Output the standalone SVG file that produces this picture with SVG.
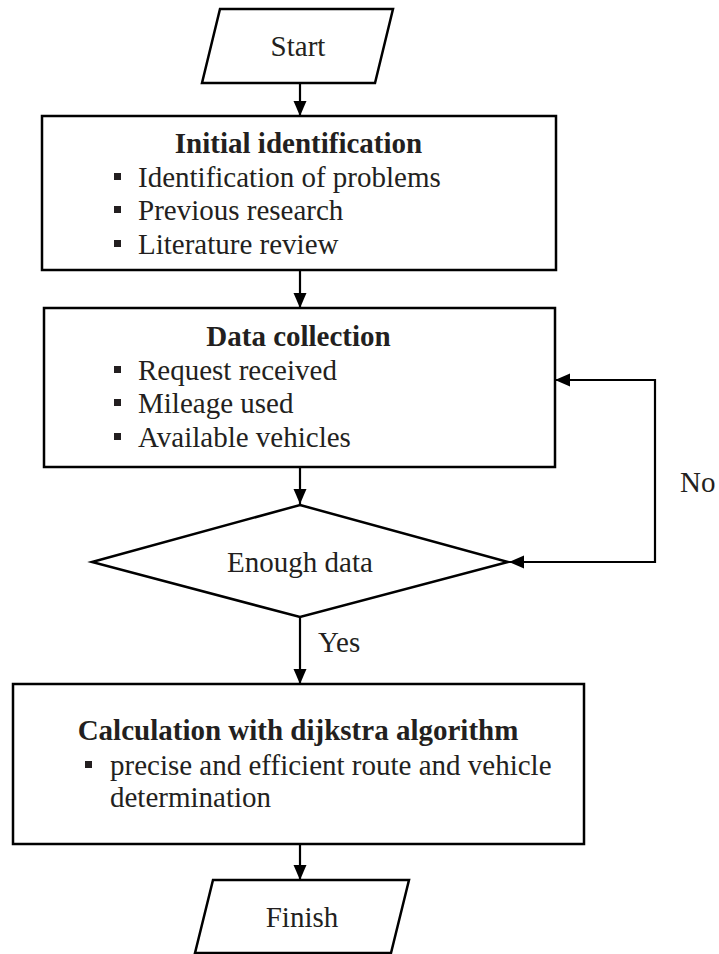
<svg xmlns="http://www.w3.org/2000/svg" width="719" height="954" viewBox="0 0 719 954">
<style>
.shape{fill:#fff;stroke:#000;stroke-width:2.5}
.conn{fill:none;stroke:#000;stroke-width:2.2}
text{font-family:"Liberation Serif","Times New Roman",serif;font-size:29px;fill:#231f20}
.t{font-weight:bold;text-anchor:middle}
.c{text-anchor:middle}
.b{fill:#231f20}
</style>
<defs>
<marker id="ah" markerUnits="userSpaceOnUse" markerWidth="16" markerHeight="14" refX="15" refY="6.5" orient="auto">
<path d="M0,0 L15,6.5 L0,13 z" fill="#000"/>
</marker>
</defs>
<g id="connectors">
<line class="conn" x1="300" y1="83" x2="300" y2="116" marker-end="url(#ah)"/>
<line class="conn" x1="300" y1="270" x2="300" y2="308" marker-end="url(#ah)"/>
<line class="conn" x1="300" y1="467" x2="300" y2="504" marker-end="url(#ah)"/>
<line class="conn" x1="300" y1="617" x2="300" y2="684" marker-end="url(#ah)"/>
<line class="conn" x1="300" y1="844" x2="300" y2="880" marker-end="url(#ah)"/>
<path class="conn" d="M655,563 L655,380 L555,380" marker-end="url(#ah)"/>
<line class="conn" x1="656" y1="562" x2="509" y2="562" marker-end="url(#ah)"/>
<text x="318" y="652">Yes</text>
<text x="680" y="492">No</text>
</g>
<g id="start">
<polygon class="shape" points="220,9 393,9 375,83 202,83"/>
<text class="c" x="298" y="56">Start</text>
</g>
<g id="initial">
<rect class="shape" x="42" y="116" width="514" height="154"/>
<text class="t" x="298.5" y="153">Initial identification</text>
<rect class="b" x="114" y="173" width="7" height="7"/>
<text x="138" y="187">Identification of problems</text>
<rect class="b" x="114" y="206" width="7" height="7"/>
<text x="138" y="220">Previous research</text>
<rect class="b" x="114" y="240" width="7" height="7"/>
<text x="138" y="254">Literature review</text>
</g>
<g id="data">
<rect class="shape" x="44" y="308" width="511" height="159"/>
<text class="t" x="298.5" y="346">Data collection</text>
<rect class="b" x="114" y="366" width="7" height="7"/>
<text x="138" y="380">Request received</text>
<rect class="b" x="114" y="399" width="7" height="7"/>
<text x="138" y="413">Mileage used</text>
<rect class="b" x="114" y="433" width="7" height="7"/>
<text x="138" y="447">Available vehicles</text>
</g>
<g id="decision">
<polygon class="shape" points="300,505 508,562 300,617 92,562"/>
<text class="c" x="300" y="572">Enough data</text>
</g>
<g id="calc">
<rect class="shape" x="13" y="684" width="571" height="160"/>
<text class="t" x="298" y="740">Calculation with dijkstra algorithm</text>
<rect class="b" x="85" y="761" width="7" height="7"/>
<text x="110" y="775">precise and efficient route and vehicle</text>
<text x="110" y="807">determination</text>
</g>
<g id="finish">
<polygon class="shape" points="213,880 409,880 391,953 195,953"/>
<text class="c" x="302" y="927">Finish</text>
</g>
</svg>
